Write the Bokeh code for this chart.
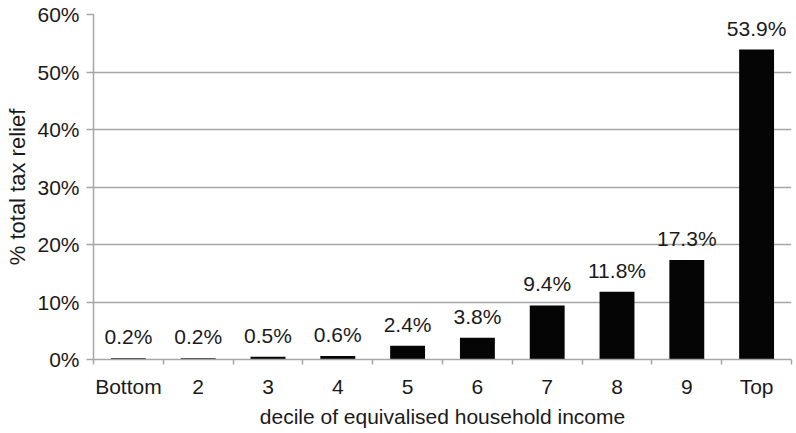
from bokeh.plotting import figure
from bokeh.models import ColumnDataSource, FixedTicker, Range1d, LabelSet
from bokeh.core.properties import value
from bokeh.embed import file_html
from bokeh.resources import INLINE

categories = ["Bottom", "2", "3", "4", "5", "6", "7", "8", "9", "Top"]
values = [0.2, 0.2, 0.5, 0.6, 2.4, 3.8, 9.4, 11.8, 17.3, 53.9]
y_ticks = [0, 10, 20, 30, 40, 50, 60]

xpos = [i + 0.5 for i in range(len(categories))]
labels = [f"{v:.1f}%" for v in values]
src = ColumnDataSource(dict(x=xpos, top=values, label=labels))

FONT = "Liberation Sans"
FS = "21px"
TXT = "#1a1a1a"
GRAY = "#a6a6a6"

p = figure(width=796, height=433, output_backend="svg", toolbar_location=None,
           x_range=Range1d(0, len(categories)), y_range=Range1d(0, 60),
           min_border_left=93, min_border_right=5, min_border_top=14, min_border_bottom=74)
p.outline_line_color = None
p.background_fill_color = "white"

p.vbar(x="x", top="top", width=0.5, bottom=0, source=src, fill_color="#050505", line_color=None)

p.add_layout(LabelSet(x="x", y="top", text="label", source=src, text_align="center",
                      text_baseline="alphabetic", y_offset=14, text_font=value(FONT),
                      text_font_size=FS, text_color=TXT))

# x axis
p.xaxis.ticker = FixedTicker(ticks=xpos, minor_ticks=list(range(len(categories) + 1)))
p.xaxis.major_label_overrides = {x: c for x, c in zip(xpos, categories)}
p.xaxis.major_tick_out = 0
p.xaxis.major_tick_in = 0
p.xaxis.minor_tick_out = 5
p.xaxis.minor_tick_in = 0
p.xaxis.minor_tick_line_color = GRAY
p.xaxis.minor_tick_line_width = 1.5
p.xaxis.axis_label = "decile of equivalised household income"
p.xaxis.major_label_standoff = 10
p.xaxis.axis_label_standoff = 4

# y axis
p.yaxis.ticker = FixedTicker(ticks=y_ticks, minor_ticks=[])
p.yaxis.major_label_overrides = {t: f"{t}%" for t in y_ticks}
p.yaxis.major_tick_out = 7
p.yaxis.major_tick_in = 0
p.yaxis.major_tick_line_color = GRAY
p.yaxis.major_tick_line_width = 1.5
p.yaxis.axis_label = "% total tax relief"
p.yaxis.major_label_standoff = 7
p.yaxis.axis_label_standoff = 4

for ax in (p.xaxis[0], p.yaxis[0]):
    ax.axis_line_color = GRAY
    ax.axis_line_width = 1.5
    ax.major_label_text_font = FONT
    ax.major_label_text_font_size = FS
    ax.major_label_text_color = TXT
    ax.axis_label_text_font = FONT
    ax.axis_label_text_font_size = FS
    ax.axis_label_text_font_style = "normal"
    ax.axis_label_text_color = TXT
p.yaxis.axis_label_text_font_size = "22px"

p.xgrid.grid_line_color = None
p.ygrid.grid_line_color = GRAY
p.ygrid.grid_line_width = 1.5

open("out.html", "w").write(file_html(p, INLINE))
